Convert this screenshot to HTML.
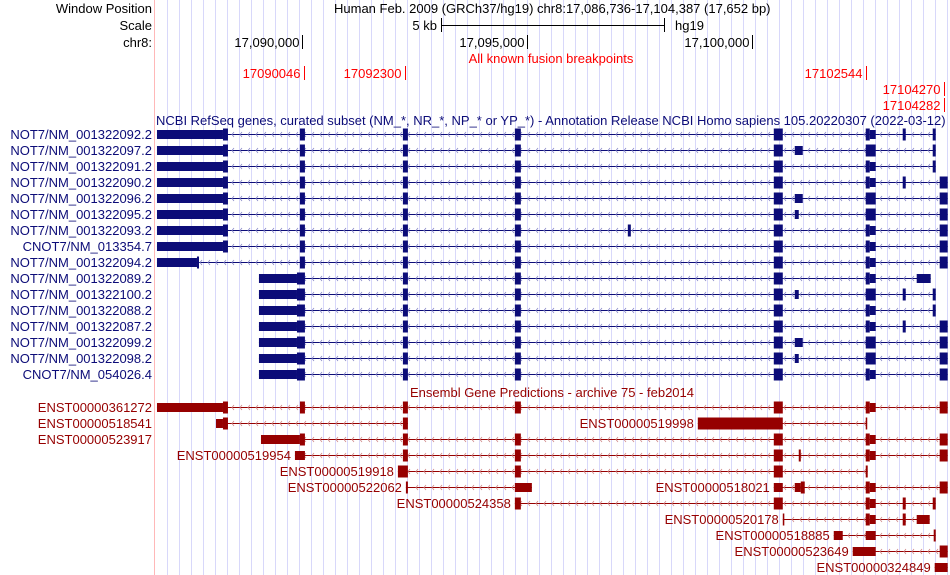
<!DOCTYPE html>
<html><head><meta charset="utf-8"><style>
html,body{margin:0;padding:0;background:#fff;}
svg{display:block;font-family:"Liberation Sans",sans-serif;font-size:13px;}
</style></head><body>
<svg id="chart" width="950" height="575" viewBox="0 0 950 575" xmlns="http://www.w3.org/2000/svg">
<g id="grid"></g>
<line x1="154.5" y1="0" x2="154.5" y2="575" stroke="#ffb8b8"/>
<text x="152" y="13" text-anchor="end">Window Position</text>
<text x="334" y="13">Human Feb. 2009 (GRCh37/hg19)   chr8:17,086,736-17,104,387 (17,652 bp)</text>
<text x="152" y="30" text-anchor="end">Scale</text>
<text x="437" y="30" text-anchor="end">5 kb</text>
<g stroke="#000">
<line x1="441" y1="25.5" x2="665" y2="25.5"/><line x1="441.5" y1="18" x2="441.5" y2="32"/><line x1="664.5" y1="18" x2="664.5" y2="32"/></g>
<text x="675" y="30">hg19</text>
<text x="152" y="47" text-anchor="end">chr8:</text>
<g id="ruler"></g>
<text x="551" y="63" text-anchor="middle" fill="#ff0000">All known fusion breakpoints</text>
<g id="fusion"></g>
<text x="156" y="125" fill="#0c0c78">NCBI RefSeq genes, curated subset (NM_*, NR_*, NP_* or YP_*) - Annotation Release NCBI Homo sapiens 105.20220307 (2022-03-12)</text>
<text x="410" y="397" fill="#960000">Ensembl Gene Predictions - archive 75 - feb2014</text>
<g id="tracks"></g>
</svg>
<script>
const winStart = 17086736;
const winEnd = 17104387;
const rulerTicks = [17090000, 17095000, 17100000];
const rulerLabels = ["17,090,000", "17,095,000", "17,100,000"];
const fusionPos = [17090046, 17092300, 17102544, 17104270, 17104282];
const fusionRow = [0, 0, 0, 1, 2];

// exon offsets from winStart (bp), kind: T = tall, t = short
const A=[[44,1511,'t'],[1511,1622,'T']], B=[3222,3333,'T'], C=[5511,5622,'T'], D=[8000,8133,'T'],
E=[13756,13956,'T'], F=[15800,16022,'T'], Fs1=[15800,15889,'T'], Fs2=[15889,16022,'t'],
G=[16622,16689,'T'], H=[17289,17356,'T'], I=[17444,17622,'T'], J=[14222,14400,'t'], K=[14222,14311,'t'],
L=[[2311,3156,'t'],[3156,3333,'T']];

const refseqLabels = ["NOT7/NM_001322092.2","NOT7/NM_001322097.2","NOT7/NM_001322091.2","NOT7/NM_001322090.2",
"NOT7/NM_001322096.2","NOT7/NM_001322095.2","NOT7/NM_001322093.2","CNOT7/NM_013354.7","NOT7/NM_001322094.2",
"NOT7/NM_001322089.2","NOT7/NM_001322100.2","NOT7/NM_001322088.2","NOT7/NM_001322087.2","NOT7/NM_001322099.2",
"NOT7/NM_001322098.2","CNOT7/NM_054026.4"];
const refseqExons = [
 [...A,B,C,D,E,Fs1,Fs2,G,H],
 [...A,B,C,D,E,J,F,H],
 [...A,B,C,D,E,Fs1,Fs2,H],
 [...A,B,C,D,E,Fs1,Fs2,G,I],
 [...A,B,C,D,E,J,F,I],
 [...A,B,C,D,E,K,F,I],
 [...A,B,C,D,[10511,10578,'T'],E,Fs1,Fs2,I],
 [...A,B,C,D,E,Fs1,Fs2,I],
 [[44,933,'t'],[933,978,'T'],B,C,D,E,Fs1,Fs2,I],
 [...L,C,D,E,Fs1,Fs2,[16933,17244,'t']],
 [...L,C,D,E,K,F,G,H],
 [...L,C,D,E,Fs1,Fs2,H],
 [...L,C,D,E,Fs1,Fs2,G,I],
 [...L,C,D,E,J,F,I],
 [...L,C,D,E,K,F,I],
 [...L,C,D,E,Fs1,Fs2,I]
];

const ensLabels = ["ENST00000361272","ENST00000518541","ENST00000519998","ENST00000523917","ENST00000519954",
"ENST00000519918","ENST00000522062","ENST00000518021","ENST00000524358","ENST00000520178","ENST00000518885",
"ENST00000523649","ENST00000324849"];
const ensRows = [0,1,1,2,3,4,5,5,6,7,8,9,10];
const ensFixedLabel = [true,true,false,true,false,false,false,false,false,false,false,false,false];
const ensExons = [
 [...A,B,C,D,E,Fs1,Fs2,I],
 [[1356,1511,'t'],[1511,1622,'T'],C],
 [[12067,13956,'T'],[15800,15830,'T']],
 [[2356,3222,'t'],B,C,D,E,Fs1,Fs2,I],
 [[3111,3333,'t'],C,D,E,[14311,14356,'T'],Fs1,Fs2,I],
 [[5400,5622,'T'],D,E,[15800,15844,'T']],
 [[5578,5622,'T'],[8000,8378,'t']],
 [[13756,13956,'t'],[14222,14356,'t'],[14356,14444,'T'],Fs1,Fs2,I],
 [D,E,Fs1,Fs2,G,H],
 [[13956,13990,'T'],Fs1,Fs2,G,[16933,17222,'t']],
 [[15089,15289,'t'],[15800,16022,'t'],[17311,17356,'T']],
 [[15511,16022,'t'],I],
 [[17333,17622,'t']]
];

const NS="http://www.w3.org/2000/svg";
const svg=document.getElementById('chart');
const x0=155, x1=949;
function x(g){return x0+(g-winStart)/(winEnd-winStart)*(x1-x0);}
function xo(off){return x(winStart+off);}
function mk(tag,attrs,parent){const e=document.createElementNS(NS,tag);for(const k in attrs)e.setAttribute(k,attrs[k]);parent.appendChild(e);return e;}

// grid
const grid=document.getElementById('grid');
for(let gx=167.5; gx<950; gx+=12){
 const l=mk('line',{x1:gx,y1:0,x2:gx,y2:575,stroke:'#d8d8fa'},grid);
 
 
}
// ruler
const ruler=document.getElementById('ruler');
rulerTicks.forEach((t,i)=>{
 const px=Math.round(x(t))+0.5;
 const l=mk('line',{x1:px,y1:35,x2:px,y2:49,stroke:'#000'},ruler);
 
 
 const tx=mk('text',{x:px-3,y:47,'text-anchor':'end'},ruler);
 tx.textContent=rulerLabels[i];
 
 
});
// fusion
const fus=document.getElementById('fusion');
fusionPos.forEach((p,i)=>{
 const px=Math.round(x(p))+0.5, y=73+fusionRow[i]*16;
 const l=mk('line',{x1:px,y1:y-7,x2:px,y2:y+7,stroke:'#ff0000'},fus);
 
 
 const tx=mk('text',{x:px-4,y:y+5,'text-anchor':'end',fill:'#ff0000'},fus);
 tx.textContent=String(p);
 
 
});

const tracks=document.getElementById('tracks');
function drawTx(label,exons,yc,color,chev,labelX){
 const g=mk('g',{},tracks);
 
 
 const s=Math.min(...exons.map(e=>e[0])), en=Math.max(...exons.map(e=>e[1]));
 const xs=xo(s), xe=xo(en);
 const ln=mk('line',{x1:xs,y1:yc+0.5,x2:xe,y2:yc+0.5,stroke:color},g);
 
 
 let p='';
 for(let cx=Math.ceil((xs+4)/8)*8; cx<xe-3; cx+=8){p+=`M${cx+2},${yc-2}L${cx},${yc+0.5}L${cx+2},${yc+3}`;}
 const ch=mk('path',{d:p,stroke:chev,fill:'none','stroke-width':0.8},g);
 
 
 exons.forEach(e=>{
  const h=e[2]==='T'?12:9;
  const a=xo(e[0]), b=xo(e[1]);
  const r=mk('rect',{x:a,y:yc-h/2+0.5,width:Math.max(1.5,b-a),height:h,fill:color},g);
  
  
 });
 const tx=mk('text',{x:labelX!=null?labelX:xs-4,y:yc+5,'text-anchor':'end',fill:color},g);
 tx.textContent=label;
 
 
}
refseqLabels.forEach((lb,i)=>drawTx(lb,refseqExons[i],134+i*16,'#0c0c78','#8888c8',152));
ensLabels.forEach((lb,i)=>drawTx(lb,ensExons[i],407+ensRows[i]*16,'#960000','#d08888',ensFixedLabel[i]?152:null));
</script>
</body></html>
